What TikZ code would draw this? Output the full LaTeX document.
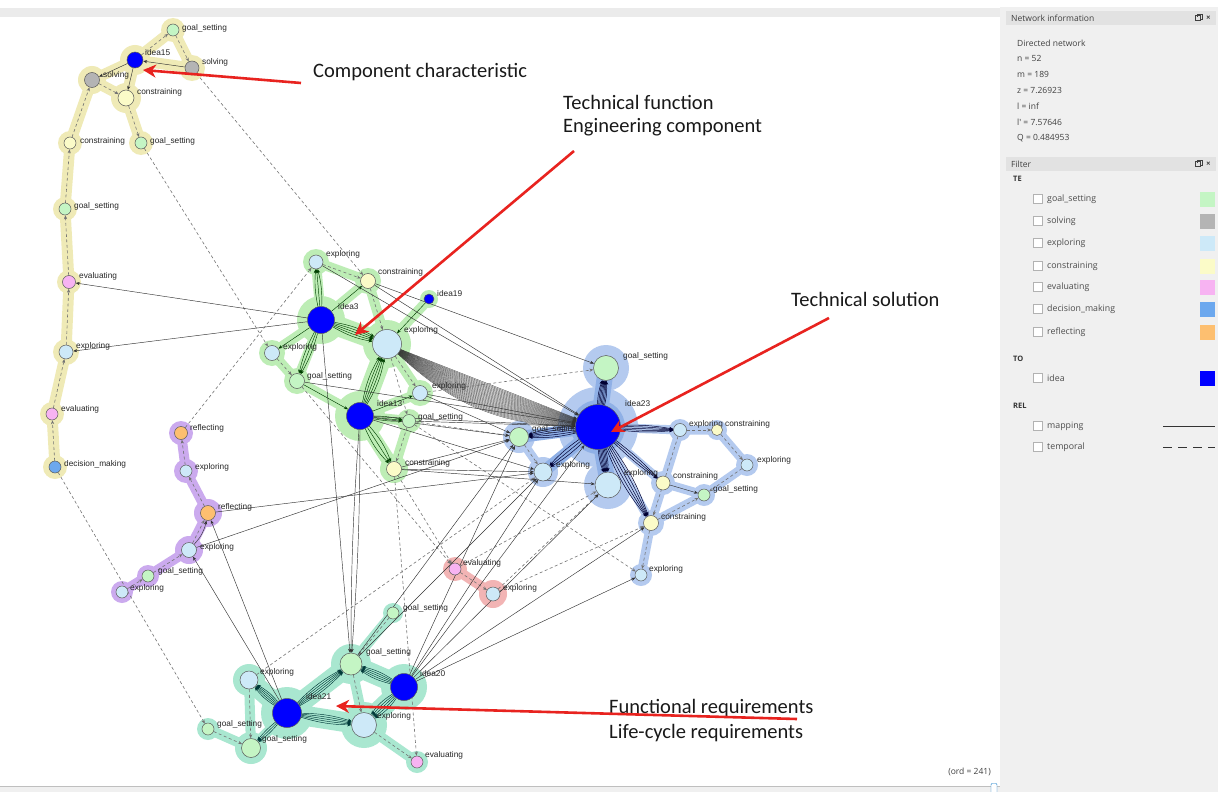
\documentclass[tikz,border=0pt]{standalone}
\usepackage{fontspec}
\setmainfont{Liberation Sans}
\newfontfamily\annfont{Carlito}
\newfontfamily\panelfont{Open Sans}
\usetikzlibrary{arrows.meta}
\pgfdeclarelayer{bg}
\pgfdeclarelayer{halo}
\pgfdeclarelayer{edges}
\pgfsetlayers{bg,halo,edges,main}

% vertex fills
\definecolor{cgoal}{HTML}{C4F5C4}
\definecolor{csolv}{HTML}{B4B4B4}
\definecolor{cexpl}{HTML}{CDE9F8}
\definecolor{ccons}{HTML}{FBFBC8}
\definecolor{ceval}{HTML}{F7B3F2}
\definecolor{cdeci}{HTML}{6CA8EE}
\definecolor{crefl}{HTML}{FDBF70}
\definecolor{cidea}{HTML}{0000FF}
% community halos
\definecolor{hyel}{HTML}{EFEAB6}
\definecolor{hpur}{HTML}{CBAAEE}
\definecolor{hgrn}{HTML}{BDEDB5}
\definecolor{hblu}{HTML}{B4CAEF}
\definecolor{hblud}{HTML}{8FB0E6}
\definecolor{hred}{HTML}{F2B4B4}
\definecolor{htea}{HTML}{A9E7D0}
% window chrome
\definecolor{panel}{HTML}{F0F0F0}
\definecolor{hdr}{HTML}{E2E2E2}
\definecolor{topbar}{HTML}{EBEBEB}
\definecolor{annred}{HTML}{E8231F}

% vertex with its label
\newcommand\vx[8]{%
  \node[vtx,fill=#5,minimum size=#4pt] (#1) at (#2,#3) {};
  \node[lbl] (#1-t) at (#6,#7) {#8};}
% bundle of parallel curved edges
\newcommand\bund[5]{%
  \foreach \k in {-#3,...,#3}{%
    \pgfmathsetmacro\bb{\k*#4}%
    \draw[#5] (#1) to[bend left=\bb] (#2);}}
% one-sided fan of curved edges
\newcommand\fan[5]{%
  \foreach \k in {0,...,#3}{%
    \pgfmathsetmacro\bb{\k*#4}%
    \draw[#5] (#1) to[bend right=\bb] (#2);}}

\begin{document}
\begin{tikzpicture}[x=1pt,y=-1pt,
  vtx/.style={circle,draw=black!65,line width=0.5pt,inner sep=0pt},
  lbl/.style={font=\fontsize{8.3}{9}\selectfont,text=black!85,inner sep=0pt,anchor=west},
  tip/.style={-{Stealth[length=4pt,width=3.2pt]}},
  map/.style={draw=black!80,line width=0.45pt,tip},
  tmp/.style={draw=black!55,line width=0.6pt,dash pattern=on 3pt off 2.5pt,tip},
  gmap/.style={draw=green!25!black,line width=0.45pt,tip},
  bmap/.style={draw=blue!20!black,line width=0.5pt,tip},
  tmap/.style={draw=teal!45!black,line width=0.45pt,tip},
  wedge/.style={draw=black!80,line width=0.3pt,-{Stealth[length=3pt,width=2.4pt]}},
  band/.style={line cap=round,line join=round},
  ann/.style={font=\annfont\fontsize{20.5}{23}\selectfont,anchor=west,inner sep=0pt,text=black!90},
  annarrow/.style={draw=annred,line width=2.6pt,-{Stealth[length=13pt,width=13pt,inset=4pt]}},
  ptxt/.style={font=\panelfont\fontsize{8.5}{9}\selectfont,anchor=west,inner sep=0pt,text=black!75},
  itxt/.style={font=\panelfont\fontsize{8.8}{9}\selectfont,anchor=west,inner sep=0pt,text=black!70},
  phead/.style={font=\panelfont\bfseries\fontsize{7.5}{8}\selectfont,anchor=west,inner sep=0pt,text=black!80},
  chk/.style={draw=black!30,fill=white,minimum size=9pt,inner sep=0pt},
  swatch/.style={minimum width=15pt,minimum height=15pt,inner sep=0pt}]

\useasboundingbox (0,0) rectangle (1218,792);
\begin{pgfonlayer}{bg}
\fill[white] (0,0) rectangle (1218,792);
\fill[topbar] (0,8) rectangle (1000,17);
\fill[panel] (1000,7) rectangle (1218,792);
\fill[panel] (0,786) rectangle (1000,792);
\draw[black!25,line width=0.8pt] (0,786) -- (1000,786);
\end{pgfonlayer}

% ---------------- vertices ----------------
% community 1 (yellow)
\vx{g1}{173}{30}{12}{cgoal}{182}{28}{goal\_setting}
\vx{idea15}{135}{60}{16}{cidea}{145}{53}{idea15}
\vx{s1}{192}{68}{14}{csolv}{202}{62}{solving}
\vx{s2}{92}{80}{15}{csolv}{103}{75}{solving}
\vx{c1}{126}{98}{16}{ccons}{137}{92}{constraining}
\vx{c2}{70}{143}{12}{ccons}{80}{141}{constraining}
\vx{g2}{141}{143}{12}{cgoal}{150}{141}{goal\_setting}
\vx{g3}{65}{209}{12}{cgoal}{74}{206}{goal\_setting}
\vx{e1}{69}{282}{13}{ceval}{79}{276}{evaluating}
\vx{x1}{66}{352}{14}{cexpl}{76}{346}{exploring}
\vx{e2}{52}{414}{12}{ceval}{61}{409}{evaluating}
\vx{d1}{55}{467}{12}{cdeci}{64}{464}{decision\_making}
% community 2 (purple)
\vx{r1}{181}{433}{13}{crefl}{190}{428}{reflecting}
\vx{x2}{186}{471}{12}{cexpl}{195}{467}{exploring}
\vx{r2}{208}{513}{15}{crefl}{218}{507}{reflecting}
\vx{x3}{189}{550}{15}{cexpl}{200}{547}{exploring}
\vx{g4}{148}{576}{12}{cgoal}{158}{571}{goal\_setting}
\vx{x4}{122}{592}{12}{cexpl}{130}{588}{exploring}
% community 3 (green)
\vx{x5}{316}{262}{14}{cexpl}{326}{254}{exploring}
\vx{c3}{368}{281}{15}{ccons}{378}{272}{constraining}
\vx{idea19}{429}{299}{10}{cidea}{437}{294}{idea19}
\vx{idea3}{321}{320}{27}{cidea}{338}{307}{idea3}
\vx{x6}{387}{344}{29}{cexpl}{404}{330}{exploring}
\vx{x7}{272}{353}{15}{cexpl}{283}{347}{exploring}
\vx{g5}{297}{381}{15}{cgoal}{307}{376}{goal\_setting}
\vx{x8}{420}{393}{15}{cexpl}{432}{386}{exploring}
\vx{idea13}{360}{416}{27}{cidea}{377}{404}{idea13}
\vx{g6}{409}{421}{13}{cgoal}{418}{417}{goal\_setting}
\vx{c4}{394}{469}{15}{ccons}{405}{463}{constraining}
% community 4 (blue)
\vx{g7}{606}{368}{25}{cgoal}{623}{356}{goal\_setting}
\vx{x11}{680}{430}{13}{cexpl}{689}{424}{exploring}
\vx{c5}{717}{430}{11}{ccons}{725}{424}{constraining}
\vx{g8}{519}{437}{19}{cgoal}{532}{429}{goal\_setting}
\vx{x9}{543}{472}{18}{cexpl}{556}{465}{exploring}
\vx{x10}{608}{485}{26}{cexpl}{624}{473}{exploring}
\vx{idea23}{598}{427}{45}{cidea}{625}{404}{idea23}
\vx{x12}{747}{465}{12}{cexpl}{757}{460}{exploring}
\vx{c6}{663}{483}{14}{ccons}{673}{476}{constraining}
\vx{g9}{704}{495}{12}{cgoal}{713}{489}{goal\_setting}
\vx{c7}{651}{523}{15}{ccons}{661}{517}{constraining}
\vx{x13}{641}{575}{12}{cexpl}{649}{569}{exploring}
% community 5 (red)
\vx{e3}{455}{569}{12}{ceval}{463}{563}{evaluating}
\vx{x14}{493}{594}{14}{cexpl}{503}{588}{exploring}
% community 6 (teal)
\vx{g10}{393}{613}{12}{cgoal}{403}{608}{goal\_setting}
\vx{g11}{351}{664}{22}{cgoal}{366}{652}{goal\_setting}
\vx{idea20}{404}{687}{27}{cidea}{420}{674}{idea20}
\vx{x15}{249}{680}{18}{cexpl}{260}{672}{exploring}
\vx{idea21}{287}{713}{29}{cidea}{306}{697}{idea21}
\vx{x16}{364}{725}{25}{cexpl}{377}{716}{exploring}
\vx{g12}{208}{729}{12}{cgoal}{217}{724}{goal\_setting}
\vx{g13}{251}{748}{19}{cgoal}{262}{739}{goal\_setting}
\vx{e4}{417}{762}{12}{ceval}{425}{755}{evaluating}

% ---------------- community halos ----------------
\begin{pgfonlayer}{halo}
  % yellow
  \draw[hyel,band,line width=11pt] (d1.center)--(e2.center)--(x1.center)--(e1.center)--(g3.center)--(c2.center)--(s2.center)--(idea15.center)--(g1.center)--(s1.center)--(idea15.center)--(c1.center)--(g2.center);
  \draw[hyel,band,line width=11pt] (s2.center)--(c1.center);
  \foreach \n/\r in {g1/12,idea15/15,s1/13,s2/14,c1/15,c2/12,g2/12,g3/12,e1/12,x1/13,e2/12,d1/12}
    \fill[hyel] (\n) circle (\r pt);
  % purple
  \draw[hpur,band,line width=10pt] (r1.center)--(x2.center)--(r2.center)--(x3.center)--(g4.center)--(x4.center);
  \foreach \n/\r in {r1/12,x2/12,r2/14,x3/14,g4/11,x4/11}
    \fill[hpur] (\n) circle (\r pt);
  % green
  \draw[hgrn,band,line width=20pt] (idea3.center)--(x6.center)--(idea13.center);
  \draw[hgrn,band,line width=14pt] (idea13.center)--(c4.center);
  \draw[hgrn,band,line width=10pt] (x5.center)--(idea3.center)--(c3.center)--(x5.center)
    (c3.center)--(x6.center)--(idea19.center)
    (idea3.center)--(x7.center)--(g5.center)--(idea3.center)
    (g5.center)--(idea13.center)--(x8.center)--(x6.center)
    (idea13.center)--(g6.center)--(c4.center);
  \foreach \n/\r in {x5/13,c3/13,idea19/9,idea3/24,x6/24,x7/13,g5/13,x8/13,idea13/25,g6/12,c4/14}
    \fill[hgrn] (\n) circle (\r pt);
  % blue
  \foreach \n/\r in {idea23/40,g7/23,x10/24,g8/16,x9/15}
    \fill[hblu] (\n) circle (\r pt);
  \draw[hblu,band,line width=9pt] (idea23.center)--(x11.center)--(c5.center)--(x12.center)--(g9.center)--(c7.center)
    (x11.center)--(c7.center)--(x13.center) (idea23.center)--(c7.center) (idea23.center)--(c6.center)--(g9.center)
    (g8.center)--(x9.center);
  \foreach \n/\r in {x11/11,c5/10,x12/11,c6/12,g9/11,c7/13,x13/11}
    \fill[hblu] (\n) circle (\r pt);
  \draw[hblud,band,line width=16pt] (g7.center)--(idea23.center)--(x10.center);
  \draw[hblud,band,line width=12pt] (g8.center)--(idea23.center)--(x9.center);
  \fill[hblud] (idea23) circle (27pt);
  % red
  \draw[hred,band,line width=10pt] (e3.center)--(x14.center);
  \foreach \n/\r in {e3/12,x14/14}
    \fill[hred] (\n) circle (\r pt);
  % teal
  \draw[htea,band,line width=20pt] (x15.center)--(idea21.center)--(g11.center)--(idea20.center)--(x16.center)--(idea21.center);
  \draw[htea,band,line width=10pt] (g10.center)--(g11.center)--(x16.center)--(e4.center)
    (idea21.center)--(g13.center)--(x15.center) (g12.center)--(g13.center);
  \foreach \n/\r in {g10/10,g11/20,idea20/23,x15/16,idea21/26,x16/23,g12/11,g13/16,e4/11}
    \fill[htea] (\n) circle (\r pt);
\end{pgfonlayer}

% ---------------- edges ----------------
\begin{pgfonlayer}{edges}
  % yellow community
  \draw[tmp] (d1)--(e2);  \draw[tmp] (e2)--(x1);  \draw[tmp] (x1)--(e1);
  \draw[tmp] (e1)--(g3);  \draw[tmp] (g3)--(c2);  \draw[tmp] (c2)--(s2);
  \draw[tmp] (s2)--(c1);  \draw[tmp] (c1)--(g2);  \draw[tmp] (idea15)--(g1);
  \draw[tmp] (g1)--(s1);
  \draw[map] (s1)--(idea15); \draw[map] (idea15)--(s2); \draw[map] (idea15)--(c1);
  % purple community
  \draw[tmp] (x4)--(g4); \draw[tmp] (g4)--(x3); \draw[tmp] (x3)--(r2);
  \draw[tmp] (r2)--(x2); \draw[tmp] (x2)--(r1);
  \draw[map] (x3) to[bend right=15] (r2);
  % green community
  \bund{idea3}{x6}{2}{5}{gmap}
  \bund{idea3}{x5}{1}{8}{gmap}
  \draw[gmap] (idea3)--(c3);
  \draw[tmp] (x5)--(c3);
  \draw[gmap] (idea3)--(x7);
  \bund{idea3}{g5}{1}{7}{gmap}
  \draw[tmp] (x7)--(g5);
  \draw[gmap] (g5)--(idea13);
  \bund{idea13}{x6}{2}{5}{gmap}
  \draw[gmap] (idea13)--(x8);
  \draw[tmp] (x6)--(x8);
  \draw[tmp] (x6)--(g6);
  \bund{idea13}{g6}{1}{6}{gmap}
  \bund{idea13}{c4}{1}{10}{gmap}
  \draw[tmp] (g6)--(c4);
  \draw[gmap] (idea19)--(x6);
  \draw[tmp] (c3)--(x6);
  % dense mapping fan from x6 into idea23
  \fan{x6}{idea23}{26}{0.8}{wedge}
  % blue community
  \bund{idea23}{g7}{3}{3}{bmap}
  \bund{idea23}{x10}{3}{3}{bmap}
  \bund{idea23}{g8}{2}{4}{bmap}
  \bund{idea23}{x9}{1}{6}{bmap}
  \bund{idea23}{x11}{2}{3}{bmap}
  \bund{idea23}{c6}{1}{4}{bmap}
  \bund{idea23}{c7}{2}{4}{bmap}
  \draw[tmp] (x11)--(c5); \draw[tmp] (c5)--(x12); \draw[tmp] (x12)--(g9);
  \draw[tmp] (x11)--(c7); \draw[tmp] (c7)--(x13); \draw[tmp] (g8)--(x9);
  \draw[tmp] (c7)--(g9);  \draw[map] (c6)--(g9);
  % red community
  \draw[tmp] (e3)--(x14);
  % teal community
  \bund{idea21}{g11}{2}{4}{tmap}
  \bund{idea20}{g11}{2}{5}{tmap}
  \bund{idea21}{x15}{2}{5}{tmap}
  \bund{idea21}{x16}{2}{4}{tmap}
  \bund{idea20}{x16}{2}{6}{tmap}
  \bund{idea21}{g13}{1}{6}{tmap}
  \draw[tmp] (g10)--(g11); \draw[tmp] (g11)--(x16); \draw[tmp] (x15)--(g13);
  \draw[tmp] (g12)--(g13); \draw[tmp] (x16)--(e4);
  % temporal links between communities
  \draw[tmp] (s1)--(c3);   \draw[tmp] (g2)--(x7);   \draw[tmp] (r1)--(x5);
  \draw[tmp] (d1)--(g12);  \draw[tmp] (c4)--(e3);   \draw[tmp] (c4)--(e4);
  \draw[tmp] (g6)--(x13);  \draw[tmp] (x8)--(g7);   \draw[tmp] (g6)--(g8);
  \draw[tmp] (g5)--(e3);
  \draw[tmp] (e3)--(x10);  \draw[tmp] (x14)--(c7);  \draw[tmp] (x15)--(x9);
  \draw[tmp] (x14)--(x10);
  % mapping links between communities
  \draw[map] (idea3)--(e1);   \draw[map] (idea3)--(x1);
  \draw[map] (idea3)--(g11);
  \draw[map] (idea13) to[bend left=2] (g11);  \draw[map] (idea13) to[bend right=2] (g11);
  \draw[map] (x3)--(g8);      \draw[map] (r2)--(x9);
  \draw[map] (idea21)--(r2);  \draw[map] (idea21)--(x3);
  \draw[map] (c3)--(g7);      \draw[map] (x5)--(idea23);  \draw[map] (c3)--(idea23);
  \draw[map] (g5)--(idea23);  \draw[map] (idea13)--(g8);  \draw[map] (idea13)--(x9);
  \draw[map] (idea13)--(idea23); \draw[map] (x8)--(idea23); \draw[map] (g6)--(idea23);
  \draw[map] (x8)--(g8);      \draw[map] (c4)--(g8);      \draw[map] (c4)--(x9);
  \draw[map] (c4)--(x10);
  \draw[map] (idea20)--(g8);  \draw[map] (idea20)--(x9);  \draw[map] (idea20)--(idea23);
  \draw[map] (idea20)--(x10); \draw[map] (idea20)--(c7);  \draw[map] (idea20)--(x13);
  \draw[map] (g11)--(g8);     \draw[map] (g11)--(x9);
\end{pgfonlayer}

% ---------------- annotations ----------------
\node[ann] (t-comp) at (313,72) {Component characteristic};
\node[ann] (t-func) at (563,102) {Technical function};
\node[ann] (t-eng)  at (563,127) {Engineering component};
\node[ann] (t-sol)  at (791,299) {Technical solution};
\node[ann] (t-freq) at (609,708) {Functional requirements};
\node[ann] (t-lreq) at (609,733) {Life-cycle requirements};
\coordinate (a1s) at (301,83);  \coordinate (a1e) at (143,70);
\coordinate (a2s) at (574,151); \coordinate (a2e) at (355,335);
\coordinate (a3s) at (829,318); \coordinate (a3e) at (611,432);
\coordinate (a4s) at (797,719); \coordinate (a4e) at (336,706);
\draw[annarrow] (a1s) -- (a1e);
\draw[annarrow] (a2s) -- (a2e);
\draw[annarrow] (a3s) -- (a3e);
\draw[annarrow] (a4s) -- (a4e);

\node[ptxt,font=\panelfont\fontsize{8.5}{9}\selectfont,anchor=east] (ord) at (991,772) {(ord = 241)};
\node[draw=cyan!60!blue,fill=white,rounded corners=1pt,minimum width=6pt,minimum height=11pt,inner sep=0pt] (slider) at (994,789) {};

% ---------------- side panel ----------------
\begin{pgfonlayer}{bg}
\fill[hdr] (1006,11) rectangle (1216,25);
\fill[hdr] (1006,157) rectangle (1216,171);
\end{pgfonlayer}
\node[ptxt] (ni) at (1011,18) {Network information};
\draw[black!75,line width=0.6pt] (1195,15) rectangle (1200,20) (1197,17) -- (1197,14) -- (1202,14) -- (1202,19) -- (1200,19);
\node[ptxt,font=\panelfont\bfseries\fontsize{8}{8}\selectfont] (nix) at (1206,18) {×};
\node[ptxt] (i1) at (1017,43) {Directed network};
\node[ptxt] (i2) at (1017,58) {n = 52};
\node[ptxt] (i3) at (1017,74) {m = 189};
\node[ptxt] (i4) at (1017,90) {z = 7.26923};
\node[ptxt] (i5) at (1017,106) {l = inf};
\node[ptxt] (i6) at (1017,122) {l' = 7.57646};
\node[ptxt] (i7) at (1017,138) {Q = 0.484953};

\node[ptxt] (fl) at (1011,164) {Filter};
\draw[black!75,line width=0.6pt] (1195,161) rectangle (1200,166) (1197,163) -- (1197,160) -- (1202,160) -- (1202,165) -- (1200,165);
\node[ptxt,font=\panelfont\bfseries\fontsize{8}{8}\selectfont] (flx) at (1206,164) {×};

\node[phead] (te) at (1013,179) {TE};
\foreach \nm/\yy/\col/\txt in {fg/199/cgoal/goal\_setting, fs/221/csolv/solving, fe/243/cexpl/exploring,
    fc/266/ccons/constraining, fv/287/ceval/evaluating, fd/309/cdeci/decision\_making, fr/332/crefl/reflecting}{
  \node[chk] (\nm-box) at (1038,\yy) {};
  \node[itxt] (\nm-txt) at (1047,\yy) {\txt};
  \node[swatch,fill=\col] (\nm-sw) at (1207,\yy) {};
}
\node[phead] (to) at (1013,359) {TO};
\node[chk] (fi-box) at (1038,378) {};
\node[itxt] (fi-txt) at (1047,378) {idea};
\node[swatch,fill=cidea] (fi-sw) at (1207,378) {};
\node[phead] (rel) at (1013,406) {REL};
\node[chk] (fm-box) at (1038,426) {};
\node[itxt] (fm-txt) at (1047,426) {mapping};
\coordinate (fm-a) at (1163,426); \coordinate (fm-b) at (1215,426);
\draw[black!80,line width=1pt] (fm-a) -- (fm-b);
\node[chk] (ft-box) at (1038,447) {};
\node[itxt] (ft-txt) at (1047,447) {temporal};
\coordinate (ft-a) at (1163,447); \coordinate (ft-b) at (1215,447);
\draw[black!80,line width=1pt,dash pattern=on 9pt off 6pt] (ft-a) -- (ft-b);
\end{tikzpicture}
\end{document}
